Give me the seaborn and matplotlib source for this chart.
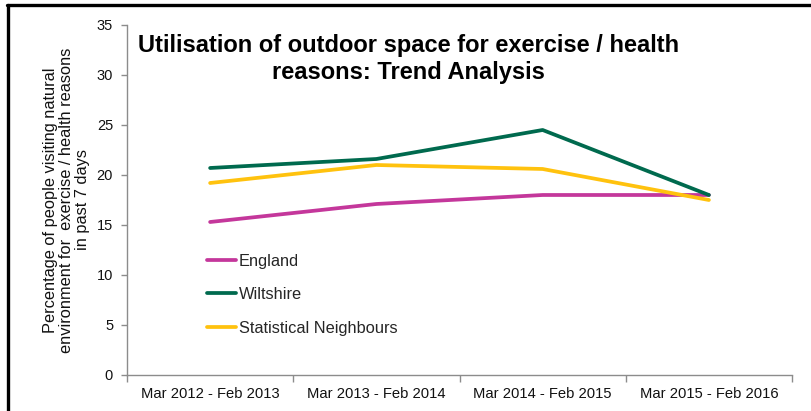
import matplotlib
matplotlib.use("Agg")
import matplotlib.pyplot as plt
from matplotlib.lines import Line2D
from matplotlib.ticker import FixedLocator, NullFormatter
import seaborn as sns
import pandas as pd

periods = ["Mar 2012 - Feb 2013", "Mar 2013 - Feb 2014",
           "Mar 2014 - Feb 2015", "Mar 2015 - Feb 2016"]
england = [15.3, 17.1, 18.0, 18.0]
wiltshire = [20.7, 21.6, 24.5, 18.0]
neighbours = [19.2, 21.0, 20.6, 17.5]
series_names = ["England", "Wiltshire", "Statistical Neighbours"]
series_colors = ["#C4379B", "#006A4E", "#FFC20E"]
y_ticks = [0, 5, 10, 15, 20, 25, 30, 35]

frames = []
for name, vals in zip(series_names, [england, wiltshire, neighbours]):
    frames.append(pd.DataFrame({"period": periods, "value": vals, "series": name}))
df = pd.concat(frames, ignore_index=True)

sns.set_theme(style="white")
plt.rcParams["font.family"] = ["Liberation Sans", "DejaVu Sans"]

fig = plt.figure(figsize=(8.12, 4.11), dpi=100)
ax = fig.add_axes([0.1564, 0.0876, 0.819, 0.8516])

sns.lineplot(data=df, x="period", y="value", hue="series",
             hue_order=series_names, palette=series_colors,
             linewidth=2.7, sort=False, ax=ax, legend=False)

ax.set_xlim(-0.5, 3.5)
ax.set_ylim(0, 35)
ax.set_yticks(y_ticks)
ax.set_xlabel("")
ax.set_ylabel("Percentage of people visiting natural\nenvironment for  exercise / health reasons\nin past 7 days",
              fontsize=11.8, color="#111111", linespacing=1.08, labelpad=5)

for side in ["top", "right"]:
    ax.spines[side].set_visible(False)
for side in ["left", "bottom"]:
    ax.spines[side].set_color("#8c8c8c")
    ax.spines[side].set_linewidth(1.0)

ax.tick_params(axis="y", which="major", left=True, length=4, width=1,
               color="#8c8c8c", labelsize=10.5, labelcolor="#111111", pad=6)
ax.tick_params(axis="x", which="major", bottom=False, length=0,
               labelsize=10.6, labelcolor="#111111", pad=9)
ax.xaxis.set_minor_locator(FixedLocator([-0.5, 0.5, 1.5, 2.5, 3.5]))
ax.xaxis.set_minor_formatter(NullFormatter())
ax.tick_params(axis="x", which="minor", bottom=True, length=5, width=1,
               color="#8c8c8c")

handles = [Line2D([0], [0], color=c, lw=2.7) for c in series_colors]
ax.legend(handles, series_names, loc="upper left",
          bbox_to_anchor=(0.111, 0.365), frameon=False, fontsize=11.8,
          handlelength=1.75, handletextpad=0.15, labelspacing=1.12,
          borderaxespad=0)

fig.text(0.503, 0.857, "Utilisation of outdoor space for exercise / health\nreasons: Trend Analysis",
         ha="center", va="center", fontsize=17, fontweight="bold",
         color="#000000", linespacing=1.2)

# frame lines along the top and left edges
fig.add_artist(Line2D([0.009, 1.0], [0.988, 0.988], transform=fig.transFigure,
                      color="black", lw=2.4))
fig.add_artist(Line2D([0.0098, 0.0098], [0.0, 0.988], transform=fig.transFigure,
                      color="black", lw=2.4))

fig.savefig("out.png", dpi=100)
